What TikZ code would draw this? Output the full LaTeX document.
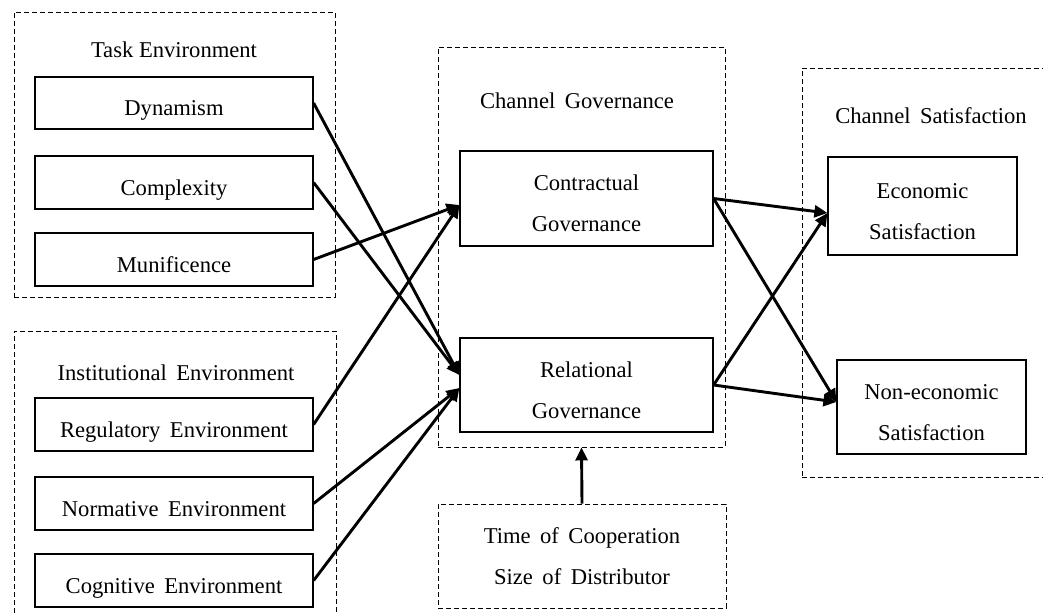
\documentclass[tikz,border=0pt]{standalone}
\usepackage{fontspec}
\setmainfont{Liberation Serif}
\usetikzlibrary{arrows.meta,calc}
\newcommand\myfont{\fontsize{22.6pt}{41pt}\selectfont\spaceskip=0.42em plus 0.1em minus 0.1em\relax}
\newcommand\onel[1]{\raisebox{-12.5pt}[0pt][0pt]{#1}}
\newcommand\twol[3]{\raisebox{-#1}[0pt][0pt]{\begin{tabular}[b]{@{}c@{}}#2\\#3\end{tabular}}}
\tikzset{
  txt/.style={font=\myfont, inner sep=0pt},
  solidbox/.style={txt, draw, line width=1.2pt, rectangle},
  dashbox/.style={draw, line width=0.9pt, dash pattern=on 5pt off 3pt, rectangle, inner sep=0pt},
  conn/.style={line width=2.9pt, -{Triangle[length=13pt,width=12pt]}},
}
\begin{document}
\begin{tikzpicture}[x=1pt,y=-1pt]
\useasboundingbox (0,0) rectangle (1043,613);
% dashed group boxes
\node[dashbox, minimum width=321pt, minimum height=285pt] (taskbox) at (174.5,154.5) {};
\node[dashbox, minimum width=322pt, minimum height=319pt] (instbox) at (175,490.5) {};
\node[dashbox, minimum width=287pt, minimum height=400pt] (govbox) at (581.5,247) {};
\node[dashbox, minimum width=288pt, minimum height=104pt] (timebox) at (582,556) {};
\node[dashbox, minimum width=278pt, minimum height=409pt] (satbox) at (941,272.5) {};
% group titles
\node[txt, anchor=base] (tasktitle) at (174,57) {Task\spaceskip=0pt\ Environment};
\node[txt, anchor=base] (insttitle) at (176,380) {Institutional Environment};
\node[txt, anchor=base] (govtitle) at (577,108) {Channel Governance};
\node[txt, anchor=base] (sattitle) at (931,123) {Channel Satisfaction};
\node[txt] (timetext) at (582,556) {\twol{28pt}{Time of Cooperation}{Size of Distributor}};
% boxes
\node[solidbox, minimum width=278pt, minimum height=52pt] (dyn) at (174,103) {\onel{Dynamism}};
\node[solidbox, minimum width=278pt, minimum height=53pt] (comp) at (174,182.5) {\onel{Complexity}};
\node[solidbox, minimum width=278pt, minimum height=53pt] (muni) at (174,259.5) {\onel{Munificence}};
\node[solidbox, minimum width=278pt, minimum height=53pt] (reg) at (174,424.5) {\onel{Regulatory Environment}};
\node[solidbox, minimum width=278pt, minimum height=53pt] (norm) at (174,503.5) {\onel{Normative Environment}};
\node[solidbox, minimum width=278pt, minimum height=53pt] (cog) at (174,580.5) {\onel{Cognitive Environment}};
\node[solidbox, minimum width=253pt, minimum height=95pt] (contr) at (586.5,198.5) {\twol{32.5pt}{Contractual}{Governance}};
\node[solidbox, minimum width=253pt, minimum height=94pt] (rel) at (586.5,385) {\twol{33pt}{Relational}{Governance}};
\node[solidbox, minimum width=189pt, minimum height=98pt] (econ) at (922.5,206) {\twol{33pt}{Economic}{Satisfaction}};
\node[solidbox, minimum width=189pt, minimum height=94pt] (nonecon) at (931.5,407) {\twol{33pt}{Non-economic}{Satisfaction}};
% connectors
\draw[conn] (dyn.east) -- ($(rel.west)+(0,-10)$);
\draw[conn] (comp.east) -- ($(rel.west)+(0,-10)$);
\draw[conn] (muni.east) -- ($(contr.west)+(0,6.5)$);
\draw[conn] (reg.east) -- ($(contr.west)+(0,6.5)$);
\draw[conn] (norm.east) -- ($(rel.west)+(0,3)$);
\draw[conn] (cog.east) -- ($(rel.west)+(0,3)$);
\draw[conn] (contr.east) -- ($(econ.west)+(0,7)$);
\draw[conn] (contr.east) -- ($(nonecon.west)+(0,-5)$);
\draw[conn] (rel.east) -- ($(econ.west)+(0,7)$);
\draw[conn] (rel.east) -- ($(nonecon.west)+(0,-5)$);
\draw[conn] (timebox.north) -- (govbox.south);
\end{tikzpicture}
\end{document}
